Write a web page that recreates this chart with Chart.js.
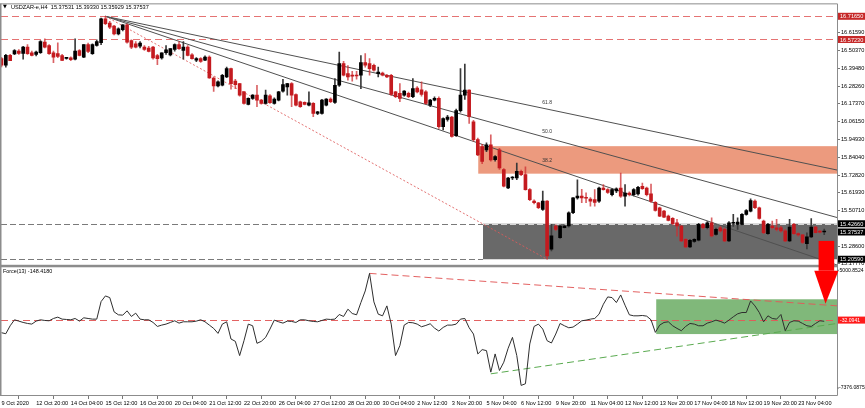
<!DOCTYPE html>
<html><head><meta charset="utf-8">
<script src="https://cdn.jsdelivr.net/npm/chart.js@4.4.0/dist/chart.umd.min.js"></script>
<style>html,body{margin:0;padding:0;background:#fff;}canvas{display:block;}</style>
</head><body>
<canvas id="c" width="865" height="408"></canvas>
<script>
// ---------- DATA ----------
const opens = [
16.453,16.412,16.474,16.483,16.500,16.486,16.525,16.490,16.480,16.490,
16.556,16.535,16.490,16.484,16.473,16.455,16.459,16.450,16.504,16.463,
16.541,16.484,16.535,16.552,16.700,16.675,16.655,16.607,16.634,16.663,
16.566,16.545,16.531,16.525,16.519,16.525,16.473,16.457,16.490,16.477,
16.510,16.541,16.504,16.525,16.477,16.443,16.453,16.443,16.463,16.333,
16.284,16.288,16.340,16.391,16.313,16.298,16.247,16.169,16.206,16.226,
16.195,16.175,16.222,16.175,16.195,16.251,16.278,16.298,16.230,16.185,
16.181,16.164,16.175,16.113,16.113,16.164,16.2015,16.181,16.288,16.422,
16.360,16.350,16.350,16.350,16.428,16.422,16.412,16.360,16.364,16.350,
16.350,16.247,16.237,16.226,16.237,16.216,16.270,16.260,16.247,16.164,
16.195,16.206,16.030,16.075,16.090,15.975,16.130,16.226,16.257,16.060,
15.950,15.907,15.886,15.917,15.8245,15.886,15.7627,15.649,15.711,15.711,
15.752,15.732,15.639,15.567,15.557,15.5155,15.567,15.268,15.4125,15.340,
15.402,15.4125,15.495,15.5876,15.598,15.590,15.580,15.577,15.567,15.649,
15.639,15.608,15.630,15.649,15.598,15.618,15.608,15.612,15.660,15.649,
15.612,15.560,15.526,15.505,15.474,15.460,15.433,15.4125,15.330,15.283,
15.316,15.324,15.423,15.402,15.433,15.361,15.402,15.392,15.320,15.430,
15.423,15.423,15.485,15.505,15.567,15.526,15.443,15.365,15.4125,15.402,
15.402,15.382,15.320,15.423,15.365,15.357,15.303,15.345,15.406,15.377,
15.37531];
const highs = [
16.462,16.480,16.480,16.510,16.510,16.530,16.540,16.500,16.500,16.566,
16.576,16.540,16.500,16.552,16.480,16.462,16.465,16.576,16.510,16.540,
16.550,16.545,16.570,16.705,16.7165,16.685,16.660,16.645,16.665,16.670,
16.570,16.560,16.560,16.535,16.530,16.530,16.480,16.490,16.535,16.515,
16.545,16.560,16.560,16.535,16.485,16.460,16.460,16.470,16.470,16.340,
16.315,16.355,16.401,16.395,16.325,16.300,16.250,16.210,16.230,16.288,
16.200,16.257,16.230,16.210,16.250,16.325,16.300,16.305,16.235,16.190,
16.185,16.247,16.180,16.125,16.200,16.205,16.210,16.329,16.494,16.436,
16.410,16.375,16.374,16.473,16.484,16.453,16.420,16.400,16.370,16.355,
16.355,16.250,16.298,16.255,16.245,16.329,16.280,16.309,16.255,16.200,
16.215,16.215,16.085,16.100,16.095,16.140,16.391,16.420,16.260,16.070,
15.960,15.920,15.930,15.979,15.850,15.895,15.770,15.715,15.720,15.804,
15.760,15.780,15.645,15.575,15.560,15.629,15.570,15.423,15.420,15.420,
15.420,15.500,15.590,15.700,15.640,15.619,15.590,15.639,15.655,15.670,
15.645,15.645,15.650,15.742,15.670,15.625,15.645,15.660,15.680,15.655,
15.674,15.565,15.530,15.510,15.480,15.465,15.454,15.415,15.335,15.330,
15.335,15.430,15.430,15.440,15.464,15.400,15.410,15.400,15.440,15.485,
15.464,15.490,15.515,15.581,15.575,15.530,15.450,15.430,15.443,15.454,
15.410,15.390,15.454,15.430,15.370,15.360,15.370,15.458,15.410,15.385,
15.3933];
const lows = [
16.401,16.400,16.440,16.478,16.480,16.450,16.480,16.470,16.470,16.485,
16.520,16.480,16.428,16.460,16.440,16.450,16.440,16.445,16.470,16.460,
16.490,16.480,16.530,16.540,16.665,16.640,16.600,16.600,16.625,16.550,
16.515,16.520,16.520,16.505,16.495,16.450,16.416,16.450,16.480,16.470,
16.500,16.510,16.450,16.470,16.450,16.435,16.430,16.440,16.330,16.250,
16.278,16.283,16.335,16.263,16.267,16.220,16.170,16.165,16.200,16.154,
16.170,16.170,16.175,16.170,16.190,16.245,16.226,16.154,16.160,16.150,
16.165,16.160,16.092,16.105,16.108,16.160,16.180,16.175,16.280,16.345,
16.319,16.313,16.325,16.267,16.400,16.350,16.375,16.340,16.345,16.335,
16.225,16.210,16.185,16.220,16.210,16.210,16.240,16.220,16.170,16.155,
16.190,16.020,16.010,16.065,15.965,15.970,16.120,16.200,16.050,15.940,
15.850,15.800,15.875,15.815,15.815,15.765,15.655,15.645,15.700,15.700,
15.725,15.635,15.570,15.550,15.520,15.510,15.2059,15.258,15.385,15.335,
15.400,15.405,15.490,15.580,15.557,15.557,15.536,15.536,15.560,15.635,
15.615,15.600,15.620,15.590,15.536,15.600,15.600,15.605,15.640,15.600,
15.560,15.505,15.470,15.465,15.445,15.420,15.350,15.315,15.278,15.278,
15.310,15.320,15.395,15.395,15.345,15.355,15.375,15.315,15.315,15.410,
15.392,15.420,15.480,15.500,15.520,15.455,15.365,15.360,15.395,15.382,
15.375,15.315,15.315,15.360,15.350,15.305,15.270,15.340,15.370,15.370,
15.35929];
const closes = [
16.412,16.474,16.440,16.504,16.486,16.525,16.484,16.474,16.494,16.560,
16.525,16.484,16.463,16.467,16.442,16.457,16.447,16.500,16.474,16.540,
16.498,16.540,16.560,16.700,16.670,16.649,16.607,16.638,16.663,16.556,
16.525,16.525,16.550,16.510,16.498,16.457,16.453,16.490,16.508,16.515,
16.540,16.515,16.525,16.473,16.453,16.453,16.436,16.463,16.333,16.284,
16.309,16.350,16.391,16.298,16.292,16.226,16.175,16.206,16.226,16.195,
16.175,16.226,16.179,16.2015,16.247,16.292,16.298,16.226,16.164,16.154,
16.1685,16.179,16.113,16.123,16.195,16.2015,16.185,16.288,16.422,16.350,
16.340,16.344,16.345,16.428,16.412,16.391,16.381,16.370,16.350,16.340,
16.230,16.216,16.206,16.251,16.216,16.267,16.247,16.230,16.175,16.195,
16.206,16.030,16.080,16.090,15.970,16.130,16.226,16.257,16.092,15.950,
15.855,15.814,15.917,15.824,15.845,15.773,15.660,15.711,15.715,15.7524,
15.732,15.639,15.577,15.557,15.526,15.567,15.227,15.351,15.392,15.4125,
15.4125,15.495,15.5876,15.598,15.588,15.585,15.567,15.560,15.649,15.639,
15.622,15.639,15.643,15.598,15.618,15.608,15.639,15.6535,15.645,15.608,
15.567,15.509,15.474,15.468,15.4475,15.427,15.4125,15.320,15.283,15.324,
15.330,15.423,15.402,15.433,15.351,15.392,15.382,15.320,15.433,15.436,
15.437,15.485,15.509,15.571,15.526,15.460,15.371,15.423,15.402,15.392,
15.382,15.320,15.406,15.365,15.357,15.310,15.345,15.406,15.371,15.375,
15.37537];
const force = [
-1270,-1367,-588,-3,-133,-263,-360,-425,-133,-3,
-68,-100,127,257,62,30,-3,127,-133,192,
127,62,62,1784,2337,2174,777,485,452,875,
322,647,62,-3,-3,-263,-653,-523,-425,-263,
-100,-328,-198,-198,-198,-133,-3,-198,-523,-848,
-1335,-425,-198,-1887,-2115,-3512,-2050,-425,-588,-2310,
-2115,-1725,-913,-35,-198,-328,-133,-165,-263,-3,
-3,-100,-165,-198,-68,62,30,62,517,322,
1037,615,485,1687,2824,4546,1752,550,387,1362,
-425,-3512,-2537,-523,-263,-295,-425,-685,-555,-393,
-815,-1107,-750,-523,-523,-425,62,127,-783,-1400,
-3349,-2927,-3024,-5136,-3349,-4974,-4162,-2797,-1725,-3512,
-6436,-6273,-2375,-653,-425,-913,-2050,-2277,-1400,-360,
-588,-783,-718,-425,-100,-35,62,127,550,1524,
2239,2174,1687,2434,1427,485,387,387,420,355,
-3,-1237,-523,-263,-198,-588,-848,-1075,-653,-360,
-425,-588,-588,-328,-198,-35,-165,-328,-35,290,
582,712,712,1849,1362,712,-198,387,127,62,
517,-1075,-263,-100,-133,-360,-588,-653,-360,-100,
-148.418];
const xTickLabels = ["9 Oct 2020","12 Oct 20:00","14 Oct 04:00","15 Oct 12:00","16 Oct 20:00","20 Oct 04:00","21 Oct 12:00","22 Oct 20:00","26 Oct 04:00","27 Oct 12:00","28 Oct 20:00","30 Oct 04:00","2 Nov 12:00","3 Nov 20:00","5 Nov 04:00","6 Nov 12:00","9 Nov 20:00","11 Nov 04:00","12 Nov 12:00","13 Nov 20:00","17 Nov 04:00","18 Nov 12:00","19 Nov 20:00","23 Nov 04:00"];
const xTickStep = 8;
const priceTicks = [16.6159,16.5037,16.3948,16.2826,16.1737,16.0615,15.9493,15.8404,15.7282,15.6193,15.5071,15.2860,15.1777];
const redLevels = [16.7165, 16.5723];
const blackLevels = [15.4266, 15.2059];
const lastPrice = 15.37537;
const forceLevel = -32.0941;
const forceMaxLabel = 5000.8524, forceMinLabel = -7376.0875;
const titleText = "USDZAR-e,H4  15.37531 15.39330 15.35929 15.37537";
const forceTitle = "Force(13) -148.4180";
// annotations (index / value anchors)
const orangeZone = {from: 110.1, hi: 15.909, lo: 15.738};
const grayZone = {from: 111.2, hi: 15.4266, lo: 15.2059};
const fanFrom = [24, 16.7165], fanTo = [126, 15.2059];
const fanLevels = [38.2, 50.0, 61.8];
const greenZone = {from: 151.2, hi: 2009, lo: -1402};
const forceRes = [[85, 4546], [193, 1366]];
const forceSup = [[113, -5300], [193, -359]];
const arrow = {x: 190.5, tipX: 190.3, halfBody: 1.8, halfHead: 2.8, top: 15.32, headBase: 4806, tip: 1561};

// ---------- CHART ----------
const FAM = '"Liberation Sans", Arial, sans-serif';
const idx = closes.map((_, i) => i);
const bull = idx.map(i => closes[i] >= opens[i]);
const bodyData = idx.map(i => ({x: i, y: [opens[i], closes[i]]}));
const wickData = idx.map(i => ({x: i, y: [lows[i], highs[i]]}));
const forceData = idx.map(i => ({x: i, y: force[i]}));

function hline(ctx, x0, x1, py) { ctx.beginPath(); ctx.moveTo(x0, py); ctx.lineTo(x1, py); ctx.stroke(); }
function tag(ctx, py, text, bg, fg) {
  ctx.fillStyle = bg; ctx.fillRect(838, py - 3.5, 27, 7);
  ctx.fillStyle = fg; ctx.textAlign = 'left'; ctx.textBaseline = 'middle';
  ctx.fillText(text, 840, py + 0.5);
}

const annot = {
  id: 'annot',
  beforeDatasetsDraw(chart) {
    const ctx = chart.ctx, x = chart.scales.x, y = chart.scales.y, f = chart.scales.yF;
    const X = v => x.getPixelForValue(v), Y = v => y.getPixelForValue(v), F = v => f.getPixelForValue(v);
    ctx.save();
    ctx.beginPath(); ctx.rect(x.left, y.top, x.right - x.left, y.bottom - y.top); ctx.clip();
    ctx.fillStyle = 'rgb(236,154,126)';
    ctx.fillRect(X(orangeZone.from), Y(orangeZone.hi), x.right - X(orangeZone.from), Y(orangeZone.lo) - Y(orangeZone.hi));
    ctx.fillStyle = '#696969';
    ctx.fillRect(X(grayZone.from), Y(grayZone.hi), x.right - X(grayZone.from), Y(grayZone.lo) - Y(grayZone.hi));
    ctx.lineWidth = 1;
    ctx.setLineDash([7, 4]);
    ctx.strokeStyle = 'rgba(226,100,100,0.9)';
    redLevels.forEach(v => hline(ctx, x.left, x.right, Math.round(Y(v)) + 0.5));
    ctx.setLineDash([6, 3]);
    blackLevels.forEach(v => {
      const py = Math.round(Y(v)) + 0.5;
      ctx.strokeStyle = '#7a7a7a'; hline(ctx, x.left, X(grayZone.from), py);
      ctx.strokeStyle = '#d8d8d8'; hline(ctx, X(grayZone.from), x.right, py);
    });
    ctx.setLineDash([]);
    ctx.strokeStyle = '#505050';
    const [i0, p0] = fanFrom, [i1, p1] = fanTo;
    fanLevels.forEach(L => {
      const pL = p1 + L / 100 * (p0 - p1);
      const pe = p0 + (pL - p0) * (x.max - i0) / (i1 - i0);
      ctx.beginPath(); ctx.moveTo(X(i0), Y(p0)); ctx.lineTo(X(x.max), Y(pe)); ctx.stroke();
    });
    ctx.setLineDash([2, 2]);
    ctx.strokeStyle = 'rgba(222,90,90,0.85)';
    ctx.beginPath(); ctx.moveTo(X(i0), Y(p0)); ctx.lineTo(X(i1), Y(p1)); ctx.stroke();
    ctx.restore();

    ctx.save();
    ctx.beginPath(); ctx.rect(x.left, f.top, x.right - x.left, f.bottom - f.top); ctx.clip();
    ctx.fillStyle = 'rgb(128,184,122)';
    ctx.fillRect(X(greenZone.from), F(greenZone.hi), x.right - X(greenZone.from), F(greenZone.lo) - F(greenZone.hi));
    ctx.lineWidth = 1;
    ctx.setLineDash([7, 4]);
    ctx.strokeStyle = 'rgba(226,90,90,0.95)';
    hline(ctx, x.left, x.right, Math.round(F(forceLevel)) + 0.5);
    ctx.beginPath(); ctx.moveTo(X(forceRes[0][0]), F(forceRes[0][1])); ctx.lineTo(X(forceRes[1][0]), F(forceRes[1][1])); ctx.stroke();
    ctx.strokeStyle = 'rgb(90,170,80)';
    ctx.beginPath(); ctx.moveTo(X(forceSup[0][0]), F(forceSup[0][1])); ctx.lineTo(X(forceSup[1][0]), F(forceSup[1][1])); ctx.stroke();
    ctx.restore();
  },
  afterDatasetsDraw(chart) {
    const ctx = chart.ctx, x = chart.scales.x, y = chart.scales.y, f = chart.scales.yF;
    const X = v => x.getPixelForValue(v), Y = v => y.getPixelForValue(v), F = v => f.getPixelForValue(v);
    ctx.save();
    ctx.font = '5px ' + FAM; ctx.fillStyle = '#333'; ctx.textAlign = 'center'; ctx.textBaseline = 'middle';
    const [i0, p0] = fanFrom, [i1, p1] = fanTo;
    fanLevels.forEach(L => {
      const pL = p1 + L / 100 * (p0 - p1);
      ctx.fillText(L.toFixed(1), X(i1), Y(pL) - 6);
    });
    ctx.strokeStyle = '#8c8c8c'; ctx.lineWidth = 1;
    ctx.beginPath();
    ctx.moveTo(x.left - 0.5, y.top - 0.5); ctx.lineTo(x.right + 0.5, y.top - 0.5);
    ctx.moveTo(x.right + 0.5, y.top - 0.5); ctx.lineTo(x.right + 0.5, f.bottom + 0.5);
    ctx.moveTo(x.left - 0.5, f.bottom + 0.5); ctx.lineTo(x.right + 0.5, f.bottom + 0.5);
    ctx.stroke();
    ctx.fillStyle = '#8c8c8c';
    ctx.fillRect(0, y.top - 1, 1.5, f.bottom - y.top + 2);
    ctx.fillRect(x.left, y.bottom - 1, x.right - x.left + 1, 2.5);
    ctx.fillStyle = '#ff0000';
    ctx.fillRect(X(arrow.x - arrow.halfBody), Y(arrow.top), X(arrow.x + arrow.halfBody) - X(arrow.x - arrow.halfBody), F(arrow.headBase) - Y(arrow.top));
    ctx.beginPath();
    ctx.moveTo(X(arrow.x - arrow.halfHead), F(arrow.headBase));
    ctx.lineTo(X(arrow.x + arrow.halfHead), F(arrow.headBase));
    ctx.lineTo(X(arrow.tipX), F(arrow.tip));
    ctx.closePath(); ctx.fill();
    ctx.font = '5.6px ' + FAM;
    redLevels.forEach(v => tag(ctx, Y(v), v.toFixed(5), '#c62828', '#fff'));
    blackLevels.forEach(v => tag(ctx, Y(v), v.toFixed(5), '#000', '#fff'));
    tag(ctx, Y(lastPrice), lastPrice.toFixed(5), '#000', '#fff');
    ctx.font = '5.1px ' + FAM;
    ctx.fillStyle = '#000'; ctx.textAlign = 'left'; ctx.textBaseline = 'middle';
    ctx.fillText(forceMaxLabel.toFixed(4), 839.5, f.top + 4.5);
    ctx.fillText(forceMinLabel.toFixed(4), 839, f.bottom - 7);
    ctx.strokeStyle = '#777';
    hline(ctx, 837, 839, f.top + 4.5); hline(ctx, 837, 839, f.bottom - 7);
    tag(ctx, F(forceLevel), forceLevel.toFixed(4), '#ff1a1a', '#fff');
    ctx.fillStyle = '#000'; ctx.textAlign = 'left'; ctx.textBaseline = 'middle';
    ctx.font = '5px "DejaVu Sans"';
    ctx.fillText('\u25BC', 3, 7);
    ctx.font = '5.6px ' + FAM;
    ctx.fillText(titleText, 11, 7);
    ctx.font = '5.4px ' + FAM;
    ctx.fillText(forceTitle, 3, f.top + 6);
    ctx.restore();
  }
};

new Chart(document.getElementById('c'), {
  type: 'bar',
  data: {
    datasets: [
      {type: 'bar', data: bodyData, yAxisID: 'y', xAxisID: 'x', barThickness: 3, grouped: false, minBarLength: 1,
       backgroundColor: idx.map(i => bull[i] ? '#000000' : '#c41a1f'), borderWidth: 0},
      {type: 'bar', data: wickData, yAxisID: 'y', xAxisID: 'x', barThickness: 1, grouped: false,
       backgroundColor: idx.map(i => bull[i] ? '#3a3a3a' : 'rgba(205,45,50,0.75)'), borderWidth: 0},
      {type: 'line', data: forceData, yAxisID: 'yF', xAxisID: 'x', borderColor: '#2e2e2e', borderWidth: 1,
       pointRadius: 0, tension: 0, fill: false}
    ]
  },
  options: {
    responsive: false, animation: false, devicePixelRatio: 1,
    layout: {padding: {left: 1, top: 2, right: 0, bottom: 0}},
    plugins: {legend: {display: false}, tooltip: {enabled: false}},
    scales: {
      x: {
        type: 'linear', position: 'bottom', min: -0.115, max: 192.95, offset: false,
        afterBuildTicks: s => { s.ticks = xTickLabels.map((_, i) => ({value: i * xTickStep})); },
        afterFit: s => { s.height = 13; },
        ticks: {autoSkip: false, maxRotation: 0, minRotation: 0, align: 'start', padding: 1,
          callback: v => xTickLabels[Math.round(v / xTickStep)], font: {family: FAM, size: 5.6}, color: '#000'},
        grid: {drawOnChartArea: false, tickLength: 4, color: '#777'},
        border: {display: false}
      },
      y: {
        type: 'linear', position: 'right', stack: 'panes', stackWeight: 263, min: 15.1653, max: 16.7907,
        afterBuildTicks: s => { s.ticks = priceTicks.map(v => ({value: v})); },
        afterFit: s => { s.width = 28; },
        ticks: {autoSkip: false, padding: 1, callback: v => Number(v).toFixed(5), font: {family: FAM, size: 5.6}, color: '#000'},
        grid: {drawOnChartArea: false, tickLength: 3, color: '#777'},
        border: {display: false}
      },
      yF: {
        type: 'linear', position: 'right', stack: 'panes', stackWeight: 130, min: -7376.0875, max: 5293,
        afterFit: s => { s.width = 28; },
        ticks: {display: false}, grid: {display: false}, border: {display: false}
      }
    }
  },
  plugins: [annot]
});
</script>
</body></html>
